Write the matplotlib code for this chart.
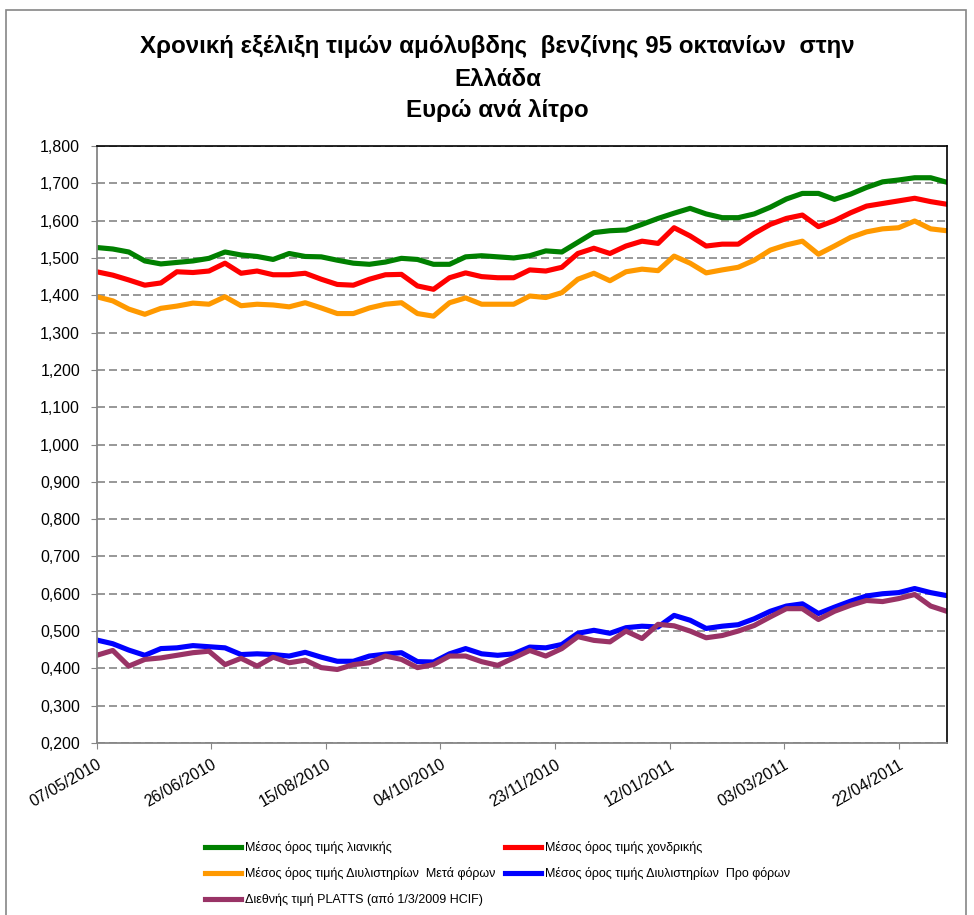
import numpy as np
import pandas as pd
import matplotlib
matplotlib.use('Agg')
import matplotlib.pyplot as plt
import matplotlib.dates as mdates
from matplotlib.patches import Rectangle
from matplotlib.ticker import FuncFormatter

plt.rcParams['font.family'] = ['Liberation Sans', 'DejaVu Sans']

# weekly observations
dates = pd.date_range('2010-05-07', periods=54, freq='7D')

retail = [1.528, 1.524, 1.516, 1.492, 1.484, 1.488, 1.492, 1.499, 1.516, 1.508,
          1.504, 1.496, 1.512, 1.504, 1.503, 1.494, 1.486, 1.483, 1.489, 1.499,
          1.496, 1.483, 1.483, 1.503, 1.506, 1.503, 1.500, 1.506, 1.519, 1.516,
          1.542, 1.568, 1.573, 1.575, 1.590, 1.606, 1.620, 1.633, 1.618, 1.608,
          1.608, 1.618, 1.636, 1.658, 1.673, 1.673, 1.657, 1.671, 1.689, 1.704,
          1.709, 1.715, 1.715, 1.703]
wholesale = [1.463, 1.454, 1.441, 1.427, 1.433, 1.463, 1.461, 1.465, 1.486, 1.459,
             1.465, 1.455, 1.455, 1.459, 1.443, 1.429, 1.427, 1.443, 1.455, 1.456,
             1.425, 1.416, 1.447, 1.460, 1.450, 1.447, 1.447, 1.468, 1.465, 1.475,
             1.512, 1.526, 1.512, 1.532, 1.545, 1.539, 1.581, 1.559, 1.532, 1.537,
             1.537, 1.566, 1.590, 1.606, 1.615, 1.584, 1.600, 1.621, 1.639, 1.646,
             1.653, 1.660, 1.651, 1.644]
refinery_after_tax = [1.396, 1.385, 1.363, 1.349, 1.365, 1.371, 1.379, 1.376, 1.396, 1.372,
                      1.376, 1.374, 1.369, 1.380, 1.366, 1.351, 1.351, 1.366, 1.376, 1.380,
                      1.351, 1.344, 1.380, 1.393, 1.376, 1.376, 1.376, 1.398, 1.394, 1.407,
                      1.443, 1.459, 1.439, 1.463, 1.470, 1.466, 1.505, 1.486, 1.460, 1.468,
                      1.475, 1.494, 1.521, 1.535, 1.545, 1.510, 1.532, 1.555, 1.570, 1.578,
                      1.581, 1.599, 1.578, 1.573]
refinery_pre_tax = [0.476, 0.466, 0.449, 0.435, 0.453, 0.455, 0.461, 0.458, 0.455, 0.437,
                    0.439, 0.437, 0.433, 0.443, 0.430, 0.419, 0.419, 0.433, 0.438, 0.442,
                    0.418, 0.417, 0.439, 0.453, 0.439, 0.435, 0.439, 0.457, 0.455, 0.464,
                    0.494, 0.502, 0.494, 0.509, 0.513, 0.511, 0.542, 0.529, 0.507, 0.513,
                    0.517, 0.533, 0.553, 0.567, 0.573, 0.547, 0.564, 0.580, 0.594, 0.600,
                    0.603, 0.614, 0.603, 0.595]
platts = [0.435, 0.448, 0.406, 0.424, 0.428, 0.435, 0.442, 0.446, 0.410, 0.427,
          0.406, 0.430, 0.415, 0.422, 0.402, 0.397, 0.410, 0.415, 0.433, 0.424,
          0.402, 0.410, 0.433, 0.433, 0.418, 0.408, 0.428, 0.448, 0.433, 0.453,
          0.485, 0.475, 0.471, 0.500, 0.480, 0.518, 0.514, 0.500, 0.482, 0.488,
          0.500, 0.515, 0.538, 0.560, 0.560, 0.531, 0.553, 0.569, 0.582, 0.579,
          0.587, 0.598, 0.567, 0.553]

labels = ['Μέσος όρος τιμής λιανικής',
          'Μέσος όρος τιμής χονδρικής',
          'Μέσος όρος τιμής Διυλιστηρίων  Μετά φόρων',
          'Μέσος όρος τιμής Διυλιστηρίων  Προ φόρων',
          'Διεθνής τιμή PLATTS (από 1/3/2009 HCIF)']
colors = ['#008000', '#FF0000', '#FF9900', '#0000FF', '#993366']
series = [retail, wholesale, refinery_after_tax, refinery_pre_tax, platts]

fig = plt.figure(figsize=(9.74, 9.15), dpi=100)
ax = fig.add_axes([0.0993, 0.188, 0.8727, 0.6524])

lines = []
for vals, c, lab in zip(series, colors, labels):
    ln, = ax.plot(dates, vals, color=c, lw=3.7, label=lab, solid_joinstyle='round')
    lines.append(ln)

ax.set_ylim(0.2, 1.8)
ax.set_yticks(np.arange(0.2, 1.81, 0.1))
ax.yaxis.set_major_formatter(FuncFormatter(lambda v, p: f'{v:.3f}'.replace('.', ',')))
ax.set_xlim(dates[0], dates[-1])
ax.set_xticks(pd.date_range('2010-05-07', periods=8, freq='50D'))
ax.xaxis.set_major_formatter(mdates.DateFormatter('%d/%m/%Y'))

ax.yaxis.grid(True, color='#868686', linestyle=(0, (4.8, 2.4)), linewidth=1.2)
ax.set_axisbelow(True)

for s in ['left', 'bottom']:
    ax.spines[s].set_color('#868686')
    ax.spines[s].set_linewidth(1.3)
for s in ['top', 'right']:
    ax.spines[s].set_color('black')
    ax.spines[s].set_linewidth(1.2)

ax.tick_params(axis='y', direction='out', length=4, color='#868686', labelsize=11.5, pad=8)
ax.tick_params(axis='x', direction='out', length=4, color='#868686', labelsize=11.5, pad=6)
for t in ax.get_xticklabels():
    t.set_rotation(30)
    t.set_ha('right')
    t.set_va('top')
    t.set_rotation_mode('anchor')

# title
title_lines = ['Χρονική εξέλιξη τιμών αμόλυβδης  βενζίνης 95 οκτανίων  στην',
               'Ελλάδα', 'Ευρώ ανά λίτρο']
for txt, ypx in zip(title_lines, [46, 79, 111]):
    fig.text(0.511, 1 - ypx / 915, txt, ha='center', va='center',
             fontsize=17.4, fontweight='bold')

# legend in row-major order
order = [0, 2, 4, 1, 3]
fig.legend([lines[i] for i in order], [labels[i] for i in order], ncol=2,
           loc='upper left', bbox_to_anchor=(205 / 974, 1 - 841 / 915),
           frameon=False, fontsize=9, handlelength=2.9, handletextpad=0.3,
           columnspacing=0.75, labelspacing=1.05, borderpad=0, borderaxespad=0)

# outer chart border
fig.patches.append(Rectangle((6 / 974, -0.01), 960 / 974, 1.01 - 10 / 915,
                             transform=fig.transFigure, fill=False,
                             edgecolor='#868686', linewidth=1.2))

fig.savefig('out.png', dpi=100)
